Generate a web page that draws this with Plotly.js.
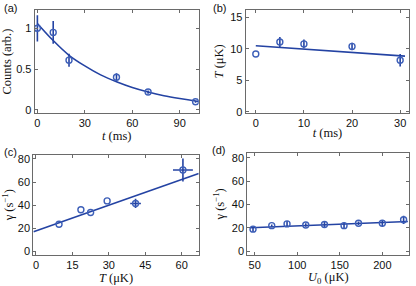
<!DOCTYPE html>
<html><head><meta charset="utf-8">
<script src="https://cdn.plot.ly/plotly-3.0.1.min.js"></script>
<style>html,body{margin:0;padding:0;background:#fff}#plot{width:416px;height:286px}</style>
</head><body><div id="plot"></div>
<script>
// Panel (a)
const a_t = [0, 10, 20, 50, 70, 100];
const a_counts = [1.0, 0.95, 0.61, 0.40, 0.22, 0.10];
const a_err = [0.16, 0.14, 0.08, 0.05, 0.02, 0.01];
const a_fit_t = [0, 10, 20, 30, 40, 50, 60, 70, 80, 90, 100, 102];
const a_fit_y = [1.06, 0.85, 0.67, 0.54, 0.43, 0.345, 0.275, 0.22, 0.175, 0.14, 0.11, 0.105];
// Panel (b)
const b_t = [0, 5, 10, 20, 30];
const b_T = [9.2, 11.1, 10.8, 10.4, 8.2];
const b_err = [0, 0.8, 0.7, 0.6, 1.0];
const b_fit_t = [0, 31];
const b_fit_T = [10.5, 8.85];
// Panel (c)
const c_T = [9.5, 18.5, 22.5, 29.3, 41, 60.5];
const c_g = [23.5, 36, 33.7, 43.7, 41.5, 70.5];
const c_xerr = [0, 0, 0, 0, 2.2, 4.1];
const c_yerr = [0, 0, 0, 0, 4, 10];
const c_fit_T = [-1, 67];
const c_fit_g = [17, 67.5];
// Panel (d)
const d_U = [48, 70, 88, 110, 132, 155, 172, 200, 225];
const d_g = [19, 22, 23.5, 22.5, 23, 22, 24, 24, 27];
const d_err = [2.5, 1, 2.5, 1.5, 2.5, 2.5, 1.5, 2.5, 3.5];
const d_fit_U = [45, 230];
const d_fit_g = [20.2, 25.6];

const markerC = '#3d5fb8';
const lineC = '#2443a3';
const mk = {symbol: 'circle-open', size: 6, color: markerC, line: {width: 1.4, color: markerC}};
function eb(arr){return {type: 'data', array: arr, visible: true, color: lineC, thickness: 1.6, width: 0};}

const traces = [
  {x: a_fit_t, y: a_fit_y, mode: 'lines', line: {color: lineC, width: 1.6, shape: 'spline'}, xaxis: 'x', yaxis: 'y'},
  {x: a_t, y: a_counts, mode: 'markers', marker: mk, error_y: eb(a_err), xaxis: 'x', yaxis: 'y'},
  {x: b_fit_t, y: b_fit_T, mode: 'lines', line: {color: lineC, width: 1.6}, xaxis: 'x2', yaxis: 'y2'},
  {x: b_t, y: b_T, mode: 'markers', marker: mk, error_y: eb(b_err), xaxis: 'x2', yaxis: 'y2'},
  {x: c_fit_T, y: c_fit_g, mode: 'lines', line: {color: lineC, width: 1.6}, xaxis: 'x3', yaxis: 'y3'},
  {x: c_T, y: c_g, mode: 'markers', marker: mk, error_y: eb(c_yerr), error_x: eb(c_xerr), xaxis: 'x3', yaxis: 'y3'},
  {x: d_fit_U, y: d_fit_g, mode: 'lines', line: {color: lineC, width: 1.6}, xaxis: 'x4', yaxis: 'y4'},
  {x: d_U, y: d_g, mode: 'markers', marker: mk, error_y: eb(d_err), xaxis: 'x4', yaxis: 'y4'}
];

const tickFont = {family: 'Liberation Sans, Arial, sans-serif', size: 11, color: '#111'};
const titleFont = {family: 'Liberation Serif, DejaVu Serif, serif', size: 12.5, color: '#111'};
function ax(extra){
  return Object.assign({
    showline: true, mirror: 'ticks', linecolor: '#6a6a6a', linewidth: 1,
    ticks: 'inside', ticklen: 3, tickcolor: '#6a6a6a', showgrid: false, zeroline: false,
    tickfont: tickFont, fixedrange: true
  }, extra);
}

const layout = {
  width: 416, height: 286, margin: {l: 0, r: 0, t: 0, b: 0},
  paper_bgcolor: '#fff', plot_bgcolor: '#fff', showlegend: false,
  xaxis: ax({domain: [0.0834, 0.4777], range: [-1.7, 102], tickvals: [0, 30, 60, 90], anchor: 'y',
    title: {text: '<i>t</i> (ms)', font: titleFont, standoff: 0}}),
  yaxis: ax({domain: [0.604, 0.965], range: [-0.04, 1.224], tickvals: [0, 0.5, 1], ticktext: ['0', '0.5', '1'], anchor: 'x',
    title: {text: 'Counts (arb.)', font: titleFont, standoff: 4}}),
  xaxis2: ax({domain: [0.5906, 0.9839], range: [-2.1, 31.9], tickvals: [0, 10, 20, 30], anchor: 'y2',
    title: {text: '<i>t</i> (ms)', font: titleFont, standoff: 0}}),
  yaxis2: ax({domain: [0.606, 0.965], range: [-0.16, 16.2], tickvals: [0, 5, 10, 15], anchor: 'x2',
    title: {text: '<i>T</i> (μK)', font: titleFont, standoff: 3}}),
  xaxis3: ax({domain: [0.080, 0.4777], range: [-1.1, 67], tickvals: [0, 15, 30, 45, 60], anchor: 'y3',
    title: {text: '<i>T</i> (μK)', font: titleFont, standoff: 0}}),
  yaxis3: ax({domain: [0.1094, 0.4591], range: [-2.9, 83.7], tickvals: [0, 20, 40, 60, 80], anchor: 'x3',
    title: {text: 'γ (s<sup>−1</sup>)', font: titleFont, standoff: 4}}),
  xaxis4: ax({domain: [0.5945, 0.9839], range: [41.3, 231.7], tickvals: [50, 100, 150, 200], anchor: 'y4',
    title: {text: '<i>U</i><sub>0</sub> (μK)', font: titleFont, standoff: 0}}),
  yaxis4: ax({domain: [0.1094, 0.465], range: [-2.9, 84.2], tickvals: [0, 20, 40, 60, 80], anchor: 'x4',
    title: {text: 'γ (s<sup>−1</sup>)', font: titleFont, standoff: 4}}),
  annotations: [
    {text: '(a)', x: 2, y: 8},
    {text: '(b)', x: 211, y: 8},
    {text: '(c)', x: 2, y: 152},
    {text: '(d)', x: 210, y: 150}
  ].map(o => ({text: o.text, x: o.x / 416, y: 1 - o.y / 286, xref: 'paper', yref: 'paper',
    xanchor: 'left', yanchor: 'middle', showarrow: false,
    font: {family: 'Liberation Sans, Arial, sans-serif', size: 11, color: '#111'}}))
};

Plotly.newPlot('plot', traces, layout, {staticPlot: true, displayModeBar: false});
</script></body></html>
